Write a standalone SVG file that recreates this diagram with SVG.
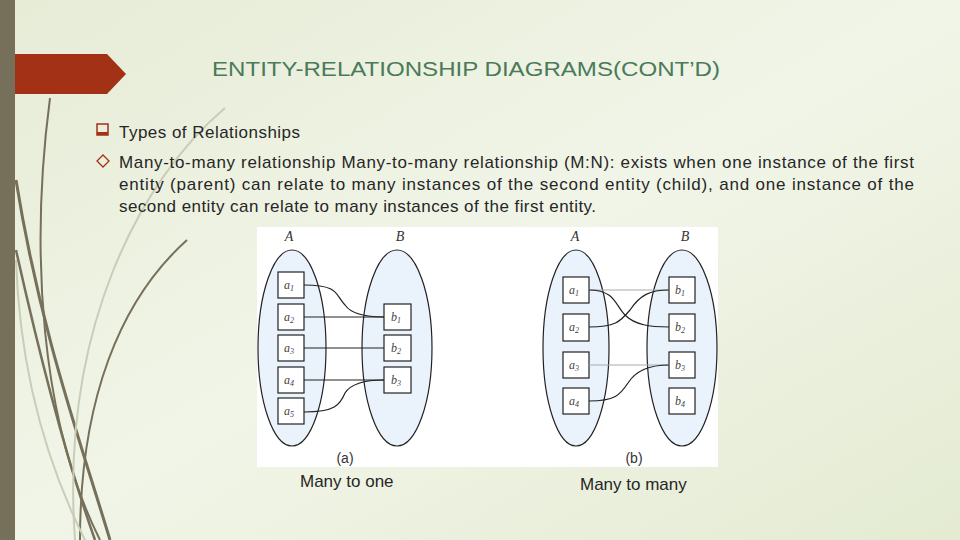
<svg xmlns="http://www.w3.org/2000/svg" width="960" height="540" viewBox="0 0 960 540">
<defs>
<linearGradient id="bg" x1="0" y1="0" x2="1" y2="1"><stop offset="0" stop-color="#e6ecd6"/><stop offset="0.5" stop-color="#f1f5e8"/><stop offset="1" stop-color="#e4ebd2"/></linearGradient>
<style>
.t{font-family:"Liberation Sans",Arial,sans-serif;fill:#262626;font-size:17px}
.ell{fill:#eaf2fb;stroke:#222;stroke-width:1.2}
.box{fill:#fff;stroke:#222;stroke-width:1.2}
.bl{font-family:"Liberation Serif",serif;font-style:italic;font-size:12px;fill:#444}
.sb{font-size:8px}
.cap{font-family:"Liberation Serif",serif;font-style:italic;font-size:14px;fill:#333}
.ln{fill:none;stroke:#222;stroke-width:1.2}
.lg{fill:none;stroke:#aaa;stroke-width:1.2}
.deco{fill:none;stroke:#76705a}
</style>
</defs>
<rect width="960" height="540" fill="url(#bg)"/>
<g id="decor">
<path class="deco" stroke-width="3" d="M16,180 C40,330 80,440 110,540"/>
<path class="deco" stroke-width="2.5" d="M16,250 C45,380 70,470 95,540"/>
<path class="deco" stroke-width="2" d="M50,98 C30,250 40,420 100,540"/>
<path class="deco" stroke-width="2" d="M187,240 C120,300 80,400 80,540"/>
<path fill="none" stroke="#c9cdb8" stroke-width="2" d="M225,108 C140,180 60,330 75,540"/>
<path fill="none" stroke="#c9cdb8" stroke-width="2" d="M16,260 C20,380 50,470 85,540"/>
</g>
<polygon points="0,54 107,54 126,74 107,94 0,94" fill="#a33116"/>
<rect x="0" y="0" width="15" height="540" fill="#76705a"/>
<text x="212" y="76" textLength="508" lengthAdjust="spacingAndGlyphs" font-family="Liberation Sans,Arial,sans-serif" font-size="20" fill="#4a7a5a">ENTITY-RELATIONSHIP DIAGRAMS(CONT’D)</text>
<rect x="97" y="124" width="11" height="11" fill="none" stroke="#a33116" stroke-width="1.5"/>
<rect x="97" y="132" width="11" height="3" fill="#a33116"/>
<text class="t" x="119" y="138" textLength="181" lengthAdjust="spacing">Types of Relationships</text>
<path d="M103,155 L109,161 L103,167 L97,161 Z" fill="none" stroke="#a33116" stroke-width="1.3"/>
<text class="t" x="119" y="168" textLength="795" lengthAdjust="spacing">Many-to-many relationship Many-to-many relationship (M:N): exists when one instance of the first</text>
<text class="t" x="119" y="190" textLength="795" lengthAdjust="spacing">entity (parent) can relate to many instances of the second entity (child), and one instance of the</text>
<text class="t" x="119" y="212" textLength="477" lengthAdjust="spacing">second entity can relate to many instances of the first entity.</text>
<rect x="257" y="227" width="461" height="240" fill="#fff"/>
<g id="diagA">
<text class="cap" x="289" y="241" text-anchor="middle">A</text>
<text class="cap" x="400" y="241" text-anchor="middle">B</text>
<ellipse class="ell" cx="292" cy="348" rx="34" ry="98"/>
<ellipse class="ell" cx="397" cy="348" rx="35" ry="98"/>
<g id="a-a1"><rect class="box" x="278" y="272" width="26" height="26"/><text class="bl" x="289" y="289" text-anchor="middle">a<tspan class="sb" dy="2">1</tspan></text></g>
<g id="a-a2"><rect class="box" x="278" y="304" width="26" height="26"/><text class="bl" x="289" y="321" text-anchor="middle">a<tspan class="sb" dy="2">2</tspan></text></g>
<g id="a-a3"><rect class="box" x="278" y="335" width="26" height="26"/><text class="bl" x="289" y="352" text-anchor="middle">a<tspan class="sb" dy="2">3</tspan></text></g>
<g id="a-a4"><rect class="box" x="278" y="367" width="26" height="26"/><text class="bl" x="289" y="384" text-anchor="middle">a<tspan class="sb" dy="2">4</tspan></text></g>
<g id="a-a5"><rect class="box" x="278" y="398" width="26" height="26"/><text class="bl" x="289" y="415" text-anchor="middle">a<tspan class="sb" dy="2">5</tspan></text></g>
<g id="a-b1"><rect class="box" x="384" y="304" width="27" height="26"/><text class="bl" x="396" y="321" text-anchor="middle">b<tspan class="sb" dy="2">1</tspan></text></g>
<g id="a-b2"><rect class="box" x="384" y="335" width="27" height="26"/><text class="bl" x="396" y="352" text-anchor="middle">b<tspan class="sb" dy="2">2</tspan></text></g>
<g id="a-b3"><rect class="box" x="384" y="367" width="27" height="26"/><text class="bl" x="396" y="384" text-anchor="middle">b<tspan class="sb" dy="2">3</tspan></text></g>
<text font-family="Liberation Sans,Arial,sans-serif" font-size="14" fill="#333" x="345" y="463" text-anchor="middle">(a)</text>
</g>
<g id="diagB">
<text class="cap" x="575" y="241" text-anchor="middle">A</text>
<text class="cap" x="685" y="241" text-anchor="middle">B</text>
<ellipse class="ell" cx="576" cy="348" rx="33" ry="98"/>
<ellipse class="ell" cx="682" cy="348" rx="35" ry="98"/>
<g id="b-a1"><rect class="box" x="563" y="277" width="26" height="26"/><text class="bl" x="574" y="294" text-anchor="middle">a<tspan class="sb" dy="2">1</tspan></text></g>
<g id="b-a2"><rect class="box" x="563" y="314" width="26" height="27"/><text class="bl" x="574" y="331" text-anchor="middle">a<tspan class="sb" dy="2">2</tspan></text></g>
<g id="b-a3"><rect class="box" x="563" y="352" width="26" height="26"/><text class="bl" x="574" y="369" text-anchor="middle">a<tspan class="sb" dy="2">3</tspan></text></g>
<g id="b-a4"><rect class="box" x="563" y="388" width="26" height="26"/><text class="bl" x="574" y="405" text-anchor="middle">a<tspan class="sb" dy="2">4</tspan></text></g>
<g id="b-b1"><rect class="box" x="669" y="277" width="26" height="26"/><text class="bl" x="680" y="294" text-anchor="middle">b<tspan class="sb" dy="2">1</tspan></text></g>
<g id="b-b2"><rect class="box" x="669" y="314" width="26" height="27"/><text class="bl" x="680" y="331" text-anchor="middle">b<tspan class="sb" dy="2">2</tspan></text></g>
<g id="b-b3"><rect class="box" x="669" y="352" width="26" height="26"/><text class="bl" x="680" y="369" text-anchor="middle">b<tspan class="sb" dy="2">3</tspan></text></g>
<g id="b-b4"><rect class="box" x="669" y="388" width="26" height="26"/><text class="bl" x="680" y="405" text-anchor="middle">b<tspan class="sb" dy="2">4</tspan></text></g>
<text font-family="Liberation Sans,Arial,sans-serif" font-size="14" fill="#333" x="634" y="463" text-anchor="middle">(b)</text>
</g>
<g id="connectors">
<path class="ln" d="M304,285 C340,285 335,295 345,305 C352,315 370,317 384,317"/>
<path class="ln" d="M304,317 H384"/>
<path class="ln" d="M304,348 H384"/>
<path class="ln" d="M304,380 H384"/>
<path class="ln" d="M304,412 C335,412 340,405 345,393 C352,382 370,380 384,380"/>
<path class="lg" d="M589,290 H669"/>
<path class="ln" d="M589,290 C615,290 615,305 625,315 C635,325 650,327 669,327"/>
<path class="ln" d="M589,327 C615,327 620,322 630,310 C640,295 650,290 669,290"/>
<path class="lg" d="M589,365 H669"/>
<path class="ln" d="M589,401 C615,401 620,395 628,383 C636,370 650,365 669,365"/>
</g>
<text class="t" x="300" y="487" font-size="15">Many to one</text>
<text class="t" x="580" y="490" font-size="15">Many to many</text>
</svg>
